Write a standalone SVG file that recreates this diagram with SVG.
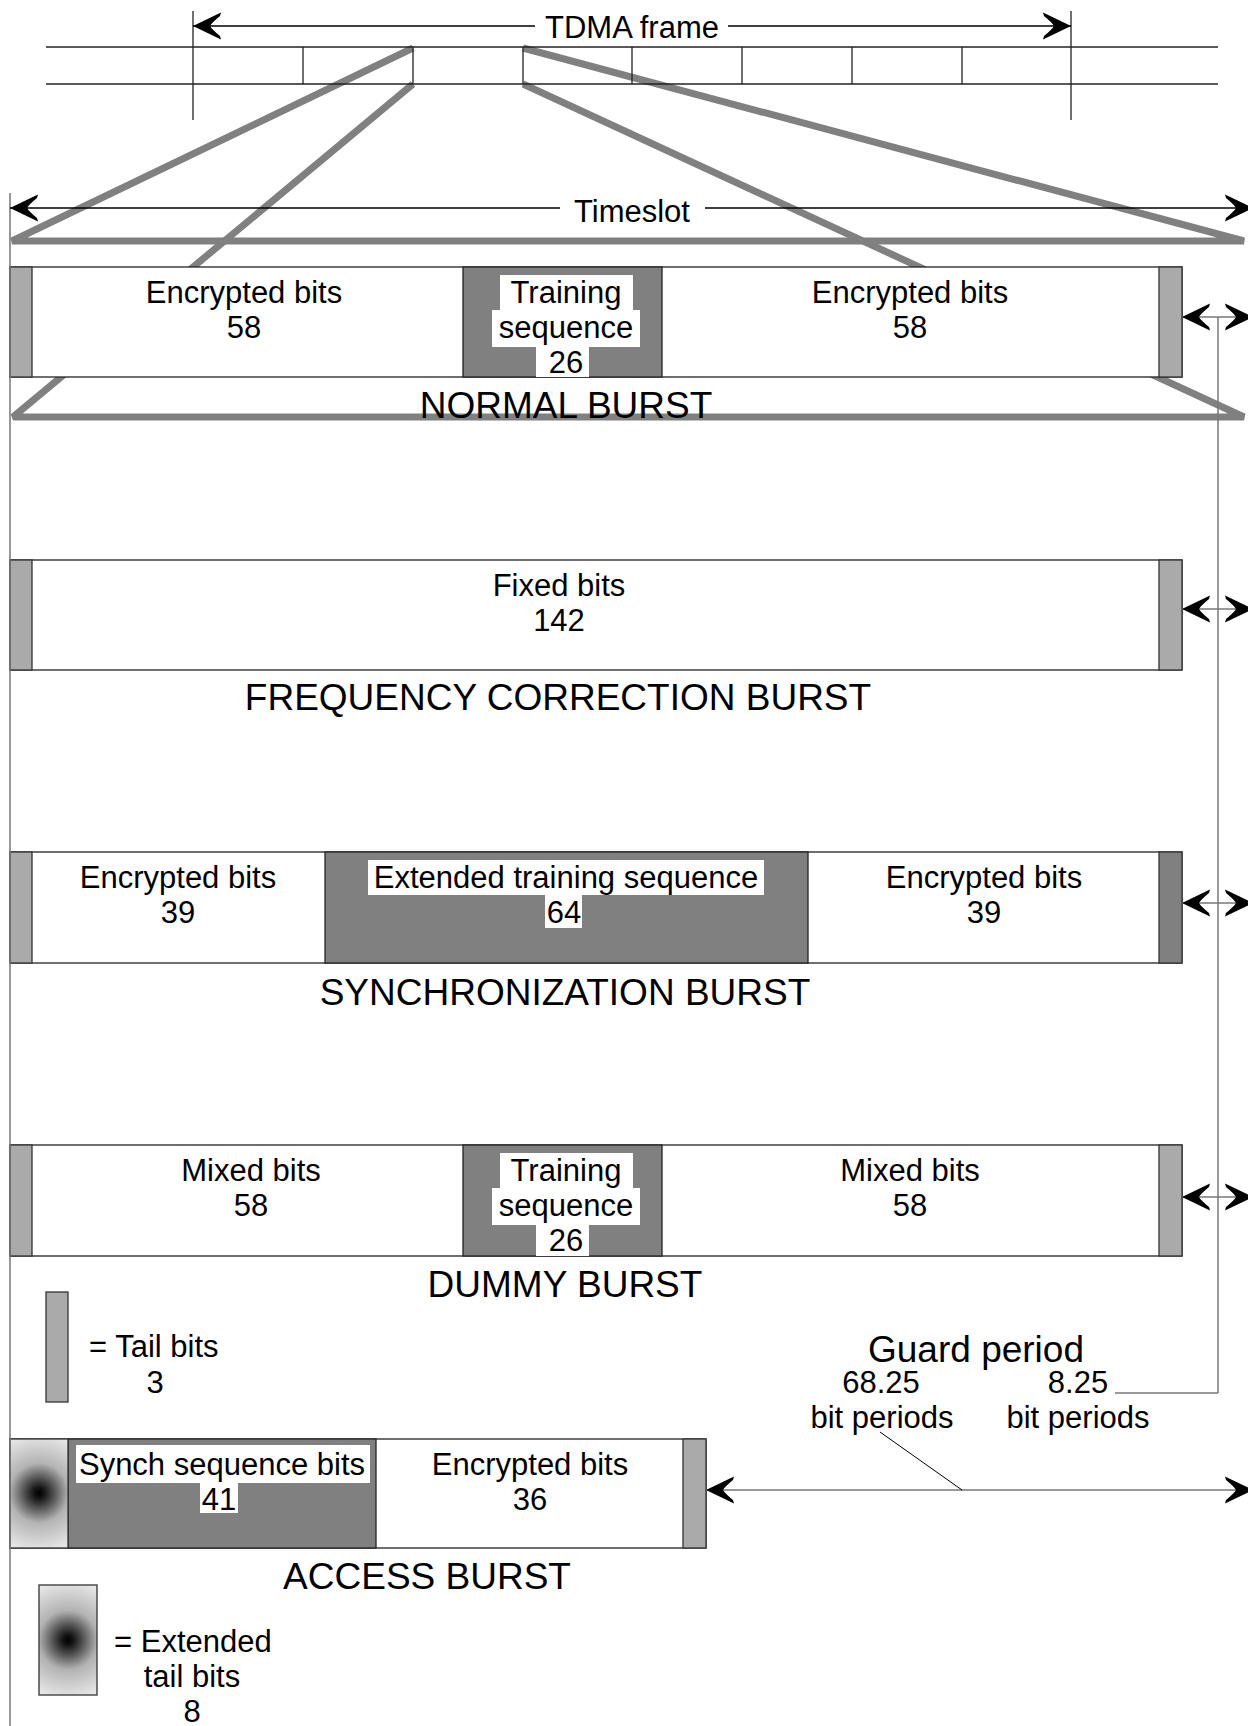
<svg xmlns="http://www.w3.org/2000/svg" width="1248" height="1726" viewBox="0 0 1248 1726">
<style>
text{font-family:"Liberation Sans",Arial,Helvetica,sans-serif;fill:#000}
.b{font-size:31px;text-anchor:middle}
.s{font-size:31px}
.t{font-size:37px;text-anchor:middle}
.box{fill:#fff;stroke:#222;stroke-width:1.3}
.tail{fill:#aaa;stroke:#333;stroke-width:1.3}
.dtail{fill:#808080;stroke:#333;stroke-width:1.3}
.train{fill:#808080;stroke:#222;stroke-width:1.3}
.wb{fill:#fff}
.persp{fill:none;stroke:#808080;stroke-width:7;stroke-linejoin:bevel}
.fl{stroke:#222;stroke-width:1.3;fill:none}
.arr{stroke:#000;stroke-width:1.3;fill:none}
.garr{stroke:#777;stroke-width:1.5;fill:none}
.thin{stroke:#000;stroke-width:1;fill:none}
</style>
<defs>
<marker id="ah" markerUnits="userSpaceOnUse" viewBox="-29 -15 30 30" refX="0" refY="0" markerWidth="30" markerHeight="30" orient="auto-start-reverse" overflow="visible">
<path d="M0,0 L-28,-13.5 L-27,-10 Q-19,-3.5 -17,0 Q-19,3.5 -27,10 L-28,13.5 Z" fill="#000"/>
</marker>
<radialGradient id="gx" gradientUnits="userSpaceOnUse" cx="39" cy="1493" r="66">
<stop offset="0" stop-color="#000"/>
<stop offset="0.08" stop-color="#151515"/>
<stop offset="0.2" stop-color="#474747"/>
<stop offset="0.45" stop-color="#b3b3b3"/>
<stop offset="0.8" stop-color="#dcdcdc"/>
<stop offset="1" stop-color="#f2f2f2"/>
</radialGradient>
<radialGradient id="gx2" href="#gx" gradientUnits="userSpaceOnUse" cx="68" cy="1640" r="66"/>
</defs>
<rect width="1248" height="1726" fill="#fff"/>

<g id="perspective">
<polyline class="persp" points="413,84 13,417 1244,417 523,84"/>
<polyline class="persp" points="413,48 12,241 1244,241 523,48"/>
</g>

<g id="tdma-frame">
<line class="fl" x1="46" y1="47" x2="1218" y2="47"/>
<line class="fl" x1="46" y1="84" x2="1218" y2="84"/>
<line class="fl" x1="193" y1="11" x2="193" y2="120"/>
<line class="fl" x1="1071" y1="11" x2="1071" y2="120"/>
<line class="fl" x1="303" y1="47" x2="303" y2="84"/>
<line class="fl" x1="413" y1="47" x2="413" y2="84"/>
<line class="fl" x1="523" y1="47" x2="523" y2="84"/>
<line class="fl" x1="632" y1="47" x2="632" y2="84"/>
<line class="fl" x1="742" y1="47" x2="742" y2="84"/>
<line class="fl" x1="852" y1="47" x2="852" y2="84"/>
<line class="fl" x1="962" y1="47" x2="962" y2="84"/>
<text class="b" x="632" y="38">TDMA frame</text>
</g>

<g id="timeslot-label">
<text class="b" x="632" y="222">Timeslot</text>
</g>

<g id="normal-burst">
<rect class="box" x="10" y="267" width="1172" height="110"/>
<rect class="train" x="463" y="267" width="199" height="110"/>
<rect class="tail" x="10" y="267" width="22" height="110"/>
<rect class="tail" x="1159" y="267" width="23" height="110"/>
<rect class="wb" x="500" y="275" width="133" height="35"/>
<rect class="wb" x="492" y="310" width="148" height="37"/>
<rect class="wb" x="536" y="347" width="53" height="30"/>
<text class="b" x="244" y="303">Encrypted bits</text>
<text class="b" x="244" y="338">58</text>
<text class="b" x="566" y="303">Training</text>
<text class="b" x="566" y="338">sequence</text>
<text class="b" x="566" y="373">26</text>
<text class="b" x="910" y="303">Encrypted bits</text>
<text class="b" x="910" y="338">58</text>
<text class="t" x="566" y="418">NORMAL BURST</text>
</g>

<g id="frequency-correction-burst">
<rect class="box" x="10" y="560" width="1172" height="110"/>
<rect class="tail" x="10" y="560" width="22" height="110"/>
<rect class="tail" x="1159" y="560" width="23" height="110"/>
<text class="b" x="559" y="596">Fixed bits</text>
<text class="b" x="559" y="631">142</text>
<text class="t" x="558" y="710">FREQUENCY CORRECTION BURST</text>
</g>

<g id="synchronization-burst">
<rect class="box" x="10" y="852" width="1172" height="111"/>
<rect class="train" x="325" y="852" width="483" height="111"/>
<rect class="tail" x="10" y="852" width="22" height="111"/>
<rect class="dtail" x="1159" y="852" width="23" height="111"/>
<rect class="wb" x="368" y="860" width="396" height="35"/>
<rect class="wb" x="545" y="895" width="37" height="33"/>
<text class="b" x="178" y="888">Encrypted bits</text>
<text class="b" x="178" y="923">39</text>
<text class="b" x="566" y="888">Extended training sequence</text>
<text class="b" x="564" y="923">64</text>
<text class="b" x="984" y="888">Encrypted bits</text>
<text class="b" x="984" y="923">39</text>
<text class="t" x="565" y="1005">SYNCHRONIZATION BURST</text>
</g>

<g id="dummy-burst">
<rect class="box" x="10" y="1145" width="1172" height="111"/>
<rect class="train" x="463" y="1145" width="199" height="111"/>
<rect class="tail" x="10" y="1145" width="22" height="111"/>
<rect class="tail" x="1159" y="1145" width="23" height="111"/>
<rect class="wb" x="500" y="1153" width="133" height="35"/>
<rect class="wb" x="492" y="1188" width="148" height="37"/>
<rect class="wb" x="536" y="1225" width="53" height="31"/>
<text class="b" x="251" y="1181">Mixed bits</text>
<text class="b" x="251" y="1216">58</text>
<text class="b" x="566" y="1181">Training</text>
<text class="b" x="566" y="1216">sequence</text>
<text class="b" x="566" y="1251">26</text>
<text class="b" x="910" y="1181">Mixed bits</text>
<text class="b" x="910" y="1216">58</text>
<text class="t" x="565" y="1297">DUMMY BURST</text>
</g>

<g id="legend-tail-bits">
<rect class="tail" x="46" y="1292" width="22" height="110"/>
<text class="s" x="89" y="1357">= Tail bits</text>
<text class="b" x="155" y="1393">3</text>
</g>

<g id="access-burst">
<rect class="box" x="10" y="1439" width="696" height="109"/>
<rect class="train" x="68" y="1439" width="308" height="109"/>
<rect x="10" y="1439" width="58" height="109" fill="url(#gx)" stroke="#333" stroke-width="1.3"/>
<rect class="tail" x="683" y="1439" width="23" height="109"/>
<rect class="wb" x="76" y="1445" width="294" height="38"/>
<rect class="wb" x="200" y="1483" width="38" height="30"/>
<text class="b" x="222" y="1475">Synch sequence bits</text>
<text class="b" x="219" y="1510">41</text>
<text class="b" x="530" y="1475">Encrypted bits</text>
<text class="b" x="530" y="1510">36</text>
<text class="t" x="427" y="1589">ACCESS BURST</text>
</g>

<g id="legend-extended-tail-bits">
<rect x="39" y="1585" width="58" height="110" fill="url(#gx2)" stroke="#333" stroke-width="1.3"/>
<text class="s" x="114" y="1652">= Extended</text>
<text class="b" x="192" y="1687">tail bits</text>
<text class="b" x="192" y="1722">8</text>
</g>

<g id="guard-period">
<text class="t" x="976" y="1362">Guard period</text>
<text class="b" x="881" y="1393">68.25</text>
<text class="b" x="1078" y="1393">8.25</text>
<text class="b" x="882" y="1428">bit periods</text>
<text class="b" x="1078" y="1428">bit periods</text>
</g>

<g id="connectors">
<line class="garr" x1="10" y1="193" x2="10" y2="1726"/>
<line class="arr" x1="193" y1="26" x2="535" y2="26" marker-start="url(#ah)"/>
<line class="arr" x1="728" y1="26" x2="1071" y2="26" marker-end="url(#ah)"/>
<line class="arr" x1="10" y1="208" x2="560" y2="208" marker-start="url(#ah)"/>
<line class="arr" x1="705" y1="208" x2="1253" y2="208" marker-end="url(#ah)"/>
<line class="garr" x1="1218" y1="317" x2="1218" y2="1393"/>
<line class="garr" x1="1115" y1="1393" x2="1218" y2="1393"/>
<line class="garr" x1="1182" y1="317" x2="1253" y2="317" marker-start="url(#ah)" marker-end="url(#ah)"/>
<line class="garr" x1="1182" y1="609" x2="1253" y2="609" marker-start="url(#ah)" marker-end="url(#ah)"/>
<line class="garr" x1="1182" y1="903" x2="1253" y2="903" marker-start="url(#ah)" marker-end="url(#ah)"/>
<line class="garr" x1="1182" y1="1197" x2="1253" y2="1197" marker-start="url(#ah)" marker-end="url(#ah)"/>
<line class="garr" x1="706" y1="1490" x2="1253" y2="1490" marker-start="url(#ah)" marker-end="url(#ah)"/>
<line class="thin" x1="880" y1="1432" x2="962" y2="1490"/>
</g>
</svg>
